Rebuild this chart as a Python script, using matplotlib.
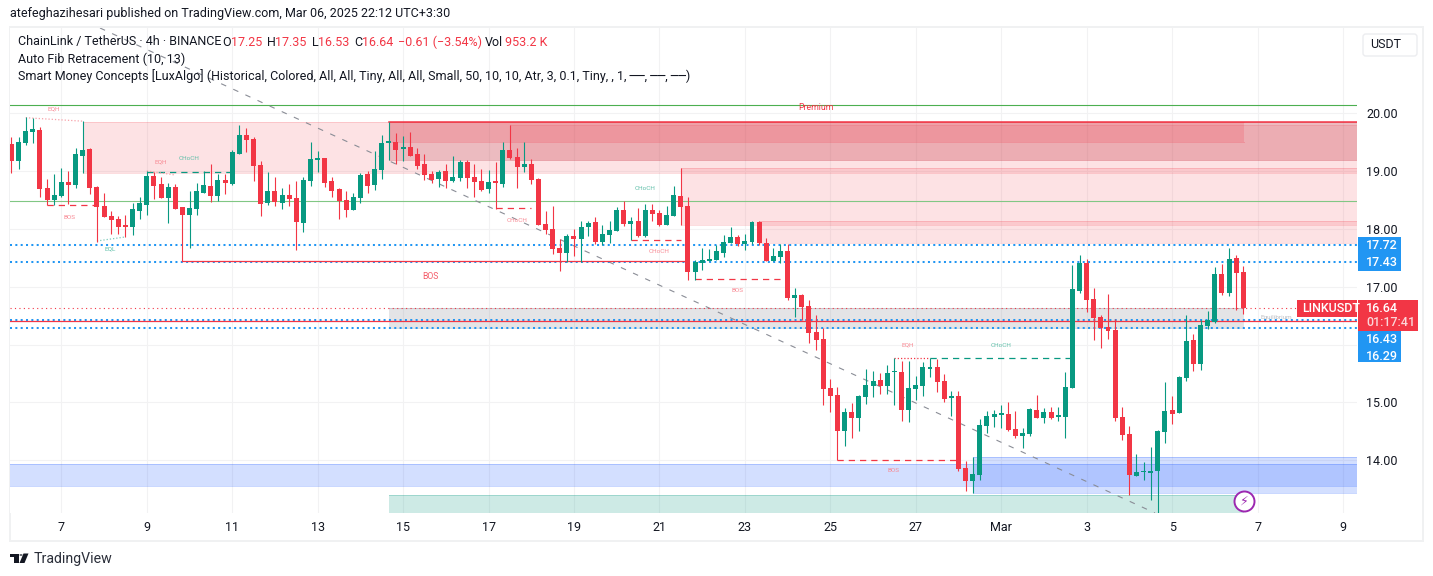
import matplotlib
matplotlib.use("Agg")
import matplotlib.pyplot as plt
from matplotlib.patches import Rectangle, FancyBboxPatch, Polygon

W, H = 1433, 576
UP, DOWN = "#089981", "#F23645"
BLUE = "#2196F3"
INK = "#131722"
plt.rcParams['font.family'] = ['Roboto', 'DejaVu Sans']

opens = [19.46,19.18,19.48,19.67,19.71,18.70,18.50,18.57,18.81,18.76,
19.26,19.38,18.72,18.39,18.22,18.17,18.05,18.03,18.31,18.41,
18.91,18.77,18.53,18.72,18.38,18.24,18.34,18.62,18.74,18.57,
18.84,18.77,19.29,19.62,19.55,19.10,18.45,18.65,18.45,18.58,
18.53,18.10,18.82,19.19,19.22,18.82,18.69,18.50,18.32,18.53,
18.95,18.76,19.02,19.49,19.50,19.38,19.41,19.29,19.12,18.95,
18.86,19.00,18.83,18.88,19.15,18.89,18.83,18.69,18.81,18.77,
19.36,19.24,19.07,19.12,18.86,18.08,18.00,17.67,17.58,17.87,
17.82,18.03,18.12,17.77,17.89,17.96,18.32,18.08,18.13,17.87,
18.32,18.27,18.07,18.22,18.57,18.39,17.25,17.41,17.44,17.46,
17.58,17.75,17.86,17.74,17.77,18.12,17.75,17.44,17.51,17.62,
16.80,16.86,16.67,16.22,16.10,15.25,15.13,14.51,14.84,14.73,
15.09,15.28,15.39,15.28,15.52,15.53,14.87,15.23,15.28,15.58,
15.61,15.37,15.08,15.11,13.87,13.64,13.75,14.59,14.75,14.79,
14.80,14.54,14.42,14.46,14.87,14.73,14.84,14.75,14.75,15.25,
16.92,17.41,16.79,16.48,16.30,16.25,14.75,14.46,13.73,13.79,
13.78,13.82,14.49,14.87,14.82,15.42,16.08,15.66,16.32,16.39,
17.22,16.89,17.49,17.25]
closes = [19.18,19.50,19.69,19.72,18.69,18.50,18.58,18.81,18.76,19.29,
19.36,18.70,18.38,18.20,18.15,18.03,18.04,18.34,18.45,18.91,
18.74,18.53,18.72,18.34,18.24,18.36,18.65,18.76,18.57,18.84,
18.79,19.33,19.62,19.53,19.08,18.43,18.65,18.46,18.58,18.51,
18.12,18.84,19.20,19.22,18.79,18.65,18.48,18.32,18.55,18.93,
18.74,19.03,19.48,19.50,19.36,19.41,19.26,19.08,18.93,18.84,
18.98,18.83,18.89,19.15,18.88,18.81,18.67,18.81,18.80,19.36,
19.22,19.07,19.12,18.84,18.07,17.98,17.65,17.58,17.87,17.82,
18.03,18.10,17.77,17.91,17.98,18.32,18.08,18.13,17.87,18.32,
18.26,18.07,18.24,18.58,18.38,17.25,17.43,17.46,17.48,17.62,
17.77,17.86,17.74,17.79,18.12,17.75,17.44,17.53,17.62,16.80,
16.86,16.65,16.20,16.08,15.23,15.11,14.51,14.84,14.73,15.11,
15.30,15.37,15.28,15.51,15.53,14.87,15.25,15.30,15.61,15.60,
15.35,15.06,15.09,13.85,13.64,13.76,14.61,14.77,14.80,14.80,
14.53,14.42,14.47,14.89,14.73,14.84,14.73,14.77,15.27,16.96,
17.41,16.77,16.46,16.29,16.23,14.73,14.44,13.75,13.80,13.80,
13.82,14.51,14.85,14.80,15.44,16.06,15.66,16.34,16.42,17.22,
16.89,17.48,17.24,16.64]
highs = [19.59,19.59,19.93,19.91,19.76,18.86,18.95,19.05,19.00,19.40,
19.86,19.40,18.74,18.62,18.31,18.22,18.24,18.44,18.55,19.00,
18.98,18.89,18.79,18.77,18.38,18.65,18.79,19.00,19.12,18.95,
18.95,19.36,19.79,19.74,19.59,19.17,18.98,18.89,18.70,18.77,
18.82,18.89,19.50,19.34,19.22,18.89,18.70,18.65,18.62,18.96,
19.00,19.34,19.62,19.85,19.65,19.60,19.67,19.40,19.29,19.00,
19.02,19.12,19.26,19.19,19.19,19.12,19.03,19.02,19.15,19.50,
19.79,19.40,19.50,19.21,18.88,18.31,18.39,17.82,17.91,18.00,
18.13,18.13,18.20,18.07,18.13,18.38,18.48,18.20,18.36,18.43,
18.43,18.32,18.39,18.74,19.05,18.55,17.46,17.67,17.65,17.72,
17.90,18.03,17.90,17.91,18.13,18.13,17.84,17.67,17.74,17.74,
16.98,16.87,16.77,16.51,16.29,15.41,15.27,14.91,14.99,15.13,
15.58,15.54,15.51,15.65,15.77,15.72,15.72,15.46,15.70,15.77,
15.75,15.49,15.20,15.20,13.99,14.06,14.72,14.85,14.87,14.96,
15.01,14.85,14.56,14.90,15.13,14.90,14.92,14.92,15.53,17.37,
17.55,17.48,16.98,16.51,16.87,16.44,14.92,14.59,14.11,13.97,
14.23,14.52,15.35,15.11,15.46,16.51,16.18,16.42,16.58,17.34,
17.39,17.67,17.55,17.35]
lows = [18.96,19.03,19.45,19.48,18.55,18.41,18.41,18.55,18.43,18.70,
18.96,18.60,17.78,18.20,17.91,17.91,17.86,17.89,18.17,18.24,
18.51,18.53,18.10,18.34,17.44,17.67,18.24,18.62,18.46,18.48,
18.60,18.76,19.29,19.33,18.82,18.22,18.41,18.39,18.34,18.39,
17.63,17.94,18.74,18.98,18.72,18.55,18.17,18.20,18.32,18.45,
18.62,18.67,18.86,19.19,19.12,19.17,19.26,19.03,18.84,18.79,
18.72,18.70,18.81,18.83,18.70,18.55,18.65,18.62,18.35,18.72,
19.20,18.70,18.98,18.77,18.07,17.91,17.57,17.27,17.43,17.53,
17.43,17.87,17.74,17.72,17.75,17.96,18.05,17.81,17.86,17.86,
18.13,18.05,18.07,18.22,18.07,17.11,17.11,17.29,17.44,17.46,
17.51,17.75,17.70,17.63,17.74,17.72,17.44,17.44,17.41,16.77,
16.48,16.42,16.03,15.91,14.96,14.84,14.01,14.25,14.39,14.51,
14.97,15.09,15.15,15.15,14.96,14.68,14.66,15.04,15.11,15.44,
15.18,15.01,14.77,13.82,13.47,13.44,13.66,14.47,14.58,14.56,
14.51,14.39,14.21,14.42,14.73,14.65,14.71,14.68,14.39,15.25,
16.89,16.56,16.08,15.94,16.10,14.68,14.35,13.40,13.73,13.66,
13.32,13.08,14.30,14.63,14.82,15.37,15.54,15.56,16.27,16.37,
16.86,16.84,16.60,16.53]

price_ticks = [20, 19, 18, 17, 16, 15, 14]
price_labels = ["20.00", "19.00", "18.00", "17.00", "", "15.00", "14.00"]
date_ticks = [7, 19, 31, 43, 55, 67, 79, 91, 103, 115, 127, 139, 151, 163, 175, 187]
date_labels = ["7", "9", "11", "13", "15", "17", "19", "21", "23", "25", "27", "Mar", "3", "5", "7", "9"]
level_prices = [17.72, 17.43, 16.43, 16.29]

X_LEFT, X_RIGHT = -0.21, 188.97
Y_BOTTOM, Y_TOP = 13.09, 21.47

# zones: first bar, last bar, top price, bottom price, colour, alpha
zones = [
    (10, X_RIGHT, 19.85, 18.97, DOWN, 0.14),
    (94, X_RIGHT, 19.05, 18.07, DOWN, 0.14),
    (105, X_RIGHT, 18.13, 17.75, DOWN, 0.14),
    (53, X_RIGHT, 19.85, 19.19, "#B43C49", 0.233),
    (70, X_RIGHT, 19.79, 19.19, DOWN, 0.10),
    (53, 173.1, 19.85, 19.50, DOWN, 0.19),
    (53, 173.1, 16.63, 16.29, "#787B86", 0.20),
    (X_LEFT, X_RIGHT, 13.93, 13.56, "#2962FF", 0.205),
    (135, X_RIGHT, 14.05, 13.44, "#2962FF", 0.205),
    (53, 173.1, 13.40, Y_BOTTOM, UP, 0.20),
]
# structure lines: first bar, last bar, start price, end price, colour, style
structures = [
    (5, 12, 18.41, 18.41, "#F23645", "dash"),
    (19, 31, 18.99, 18.99, "#089981", "dash"),
    (68, 73, 18.36, 18.36, "#F23645", "dash"),
    (87, 94, 17.81, 17.81, "#F23645", "dash"),
    (96, 109, 17.13, 17.13, "#F23645", "dash"),
    (129, 149, 15.77, 15.77, "#089981", "dash"),
    (116, 133, 14.01, 14.01, "#F23645", "dash"),
    (24, 95, 17.44, 17.44, "#F23645", "solid"),
    (2, 10, 19.92, 19.86, "#F7A0A8", "dot"),
    (19, 23, 19.00, 18.93, "#F7A0A8", "dot"),
    (12, 16, 17.79, 17.86, "#7CC9B8", "dot"),
    (124, 129, 15.77, 15.77, "#F23645", "dot"),
]
# labels: text, bar, price, colour, size
labels = [
    ("EQH", 5.97, 20.07, "#F88A94", 4.6), ("BOS", 8.08, 18.20, "#F88A94", 4.6),
    ("EQL", 13.8, 17.65, "#5FBFA9", 4.6), ("EQH", 21.0, 19.15, "#F88A94", 4.6),
    ("CHoCH", 24.9, 19.22, "#5FBFA9", 4.6), ("BOS", 58.9, 17.18, "#F45C69", 6.2),
    ("CHoCH", 71.0, 18.15, "#F88A94", 4.6), ("CHoCH", 89.0, 18.69, "#5FBFA9", 4.6),
    ("CHoCH", 90.9, 17.60, "#F88A94", 4.6), ("BOS", 101.9, 16.93, "#F88A94", 4.6),
    ("EQH", 125.9, 15.99, "#F88A94", 4.6), ("CHoCH", 139.0, 15.99, "#5FBFA9", 4.6),
    ("BOS", 123.9, 13.82, "#F88A94", 4.6), ("Premium", 113.0, 20.09, "#F23645", 6.2),
    ("Equilibrium", 177.7, 16.46, "#BDBEC3", 4.6),
]
trend_bars = [12.43, 160.6]
trend_prices = [Y_TOP, Y_BOTTOM]

fig = plt.figure(figsize=(W / 100, H / 100), dpi=100, facecolor="white")
ax = fig.add_axes([10 / W, 1 - 513 / H, 1347 / W, 485 / H])
ax.set_xlim(X_LEFT, X_RIGHT)
ax.set_ylim(Y_BOTTOM, Y_TOP)
for s in ax.spines.values():
    s.set_visible(False)
ax.set_axisbelow(True)
ax.grid(True, color="#F2F2F3", lw=0.75)
ax.set_xticks(date_ticks, date_labels)
ax.set_yticks(price_ticks, price_labels)
ax.yaxis.tick_right()
ax.tick_params(axis="both", length=0, labelcolor=INK, labelsize=9)
ax.tick_params(axis="x", pad=6)
ax.tick_params(axis="y", pad=6.5)

for x0, x1, top, bot, col, al in zones:
    ax.add_patch(Rectangle((x0, bot), x1 - x0, top - bot, fc=col, alpha=al, ec="none", zorder=1))
    ax.plot([x0, x1], [top, top], color=col, alpha=al * 1.2, lw=0.72, zorder=1.1)
    ax.plot([x0, x1], [bot, bot], color=col, alpha=al * 1.2, lw=0.72, zorder=1.1)

ax.plot([53, X_RIGHT], [19.85, 19.85], color=DOWN, lw=1.1, zorder=1.5)
ax.plot([X_LEFT, X_RIGHT], [20.14, 20.14], color="#4CAF50", lw=0.8, zorder=1.5)
ax.plot([X_LEFT, X_RIGHT], [18.48, 18.48], color="#81C784", lw=0.8, zorder=1.5)
ax.plot(trend_bars, trend_prices, color="#8A8D96", lw=0.8, ls=(0, (5, 7)), zorder=1.6)

for lv in level_prices:
    ax.plot([X_LEFT, X_RIGHT], [lv, lv], color=BLUE, lw=1.45, ls=(0, (1, 1.65)), zorder=1.7)
ax.plot([X_LEFT, X_RIGHT], [16.64, 16.64], color=DOWN, lw=0.8, ls=(0, (1, 3)), zorder=1.7)
ax.plot([X_LEFT, X_RIGHT], [16.41, 16.41], color=DOWN, lw=0.9, zorder=1.8)

STY = {"dash": (0, (5, 4)), "solid": "-", "dot": (0, (1, 1.6))}
for x0, x1, a, b, col, st in structures:
    ax.plot([x0, x1], [a, b], color=col, lw=0.9, ls=STY[st], zorder=1.9)

for i, (o, h, l, c) in enumerate(zip(opens, highs, lows, closes)):
    col = UP if c >= o else DOWN
    ax.plot([i, i], [l, h], color=col, lw=0.8, zorder=3, solid_capstyle="butt")
    ax.bar(i, max(abs(c - o), 0.025), bottom=min(o, c), width=0.70, color=col, lw=0, zorder=3.1)

for t, x, y, col, size in labels:
    ax.text(x, y, t, color=col, fontsize=size, ha="center", va="center", zorder=4)

ax.plot([173.1], [13.30], marker="o", ms=14.4, mfc="white", mec="#9C27B0", mew=1.4, zorder=5, clip_on=False)
ax.text(173.1, 13.30, "\u26A1", color="#9C27B0", fontsize=9, family="DejaVu Sans", ha="center", va="center", zorder=6)


def fx(x):
    return x / W


def fy(y):
    return 1 - y / H


def box(x0, y0, x1, y1, col):
    fig.add_artist(Rectangle((fx(x0), fy(y1)), (x1 - x0) / W, (y1 - y0) / H, fc=col, ec="none",
                             transform=fig.transFigure, zorder=7))


def label(x, y, s, col=INK, size=9, ha="left", **kw):
    fig.text(fx(x), fy(y), s, color=col, fontsize=size, ha=ha, va="center", zorder=8, **kw)


# frame
fig.add_artist(Rectangle((fx(10), fy(541)), 1413 / W, 514 / H, fc="none", ec="#F0F1F2", lw=1.4,
                         transform=fig.transFigure, zorder=0))

label(10, 14, "atefeghazihesari published on TradingView.com, Mar 06, 2025 22:12 UTC+3:30")
for x, s, col in [(18, "ChainLink / TetherUS · 4h · BINANCE", INK), (222, "O", INK), (230.6, "17.25", DOWN),
                  (266.5, "H", INK), (274.8, "17.35", DOWN), (311.6, "L", INK), (318.4, "16.53", DOWN),
                  (354.4, "C", INK), (362, "16.64", DOWN), (398.5, "−0.61 (−3.54%)", DOWN),
                  (485, "Vol", INK), (505.3, "953.2 K", DOWN)]:
    label(x, 42, s, col)
label(18, 59, "Auto Fib Retracement (10, 13)")
label(18, 76, "Smart Money Concepts [LuxAlgo] (Historical, Colored, All, All, Tiny, All, All, Small, 50, 10, 10, Atr, 3, 0.1, Tiny, , 1, ──, ──, ──)")

# currency button
fig.add_artist(FancyBboxPatch((fx(1363), fy(56)), 54 / W, 22 / H, boxstyle="round,pad=0,rounding_size=0.002",
                              mutation_aspect=2.5, fc="white", ec="#ECEDF0", lw=1, transform=fig.transFigure, zorder=7))
label(1370, 44.5, "USDT")

# price tags
box(1358, 237, 1400.7, 270.7, BLUE)
label(1366, 245.5, "17.72", "white", weight="medium")
label(1366, 262.5, "17.43", "white", weight="medium")
box(1358, 331, 1400.7, 362, BLUE)
label(1366, 339.5, "16.43", "white", weight="medium")
label(1366, 356.5, "16.29", "white", weight="medium")
box(1358, 300, 1418, 331, DOWN)
label(1366, 309, "16.64", "white", weight="medium")
label(1366, 322.5, "01:17:41", "#FBD5D8", weight="medium")
box(1297, 300, 1357, 317, DOWN)
label(1302, 308.5, "LINKUSDT", "white", weight="medium")

# logo
logo = "#131722"
box(10, 553.5, 18.5, 556.5, logo)
box(14, 553.5, 18.5, 563, logo)
fig.add_artist(Polygon([(fx(23.5), fy(553.5)), (fx(28.5), fy(553.5)), (fx(24.5), fy(563)), (fx(19.5), fy(563))],
                       closed=True, fc=logo, ec="none", transform=fig.transFigure, zorder=7))
fig.add_artist(plt.Circle((fx(21), fy(555)), 1.6 / W, fc=logo, ec="none", transform=fig.transFigure, zorder=7))
label(34, 558.5, "TradingView", "#2A2E39", 10.2)

fig.savefig("out.png", dpi=100)
